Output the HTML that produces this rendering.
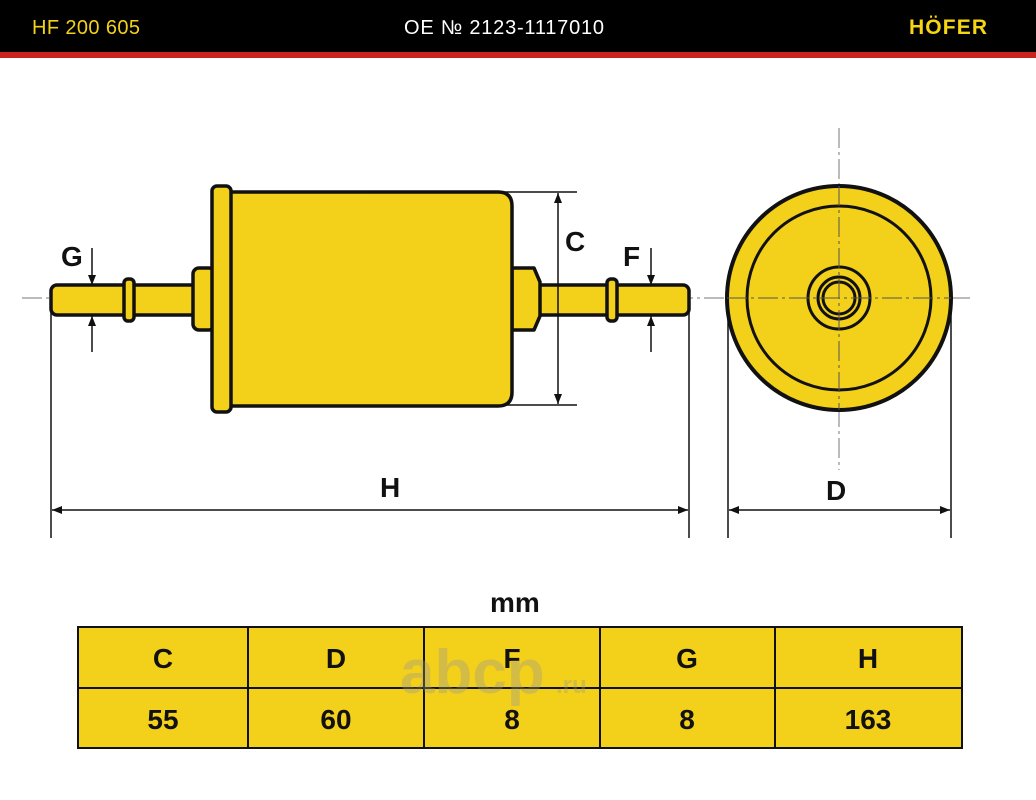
<!DOCTYPE html>
<html><head><meta charset="utf-8"><style>
html,body{margin:0;padding:0;background:#fff;}
svg{display:block;}
</style></head><body>
<svg width="1036" height="800" viewBox="0 0 1036 800" xmlns="http://www.w3.org/2000/svg" font-family="Liberation Sans, sans-serif">
<defs>
<marker id="ar" markerWidth="10" markerHeight="8" refX="10" refY="4" orient="auto-start-reverse" markerUnits="userSpaceOnUse"><path d="M0,0 L10,4 L0,8 Z" fill="#111"/></marker>
</defs>
<rect x="0" y="0" width="1036" height="52" fill="#000"/>
<rect x="0" y="52" width="1036" height="6" fill="#c8231d"/>
<text x="32" y="34" font-size="20" fill="#f2d21a" textLength="108">HF 200 605</text>
<text x="404" y="34" font-size="20" fill="#fff" textLength="200">OE № 2123-1117010</text>
<text x="909" y="34" font-size="21" font-weight="bold" fill="#f6d515" textLength="78">HÖFER</text>

<!-- center lines -->
<line x1="22" y1="298" x2="970" y2="298" stroke="#777" stroke-width="1" stroke-dasharray="20,4,3,4"/>
<line x1="839" y1="128" x2="839" y2="470" stroke="#777" stroke-width="1" stroke-dasharray="20,4,3,4"/>

<g fill="#f3d01a" stroke="#111" stroke-width="3.5" stroke-linejoin="round">
<rect x="51" y="285" width="146" height="30" rx="6"/>
<rect x="124" y="279" width="10" height="42" rx="4"/>
<rect x="193" y="268" width="22" height="62" rx="6"/>
<rect x="536" y="285" width="153" height="30" rx="6"/>
<rect x="607" y="279" width="10" height="42" rx="4"/>
<path d="M512,268 L534,268 L540,282 L540,316 L534,330 L512,330 Z"/>
<path d="M228,192 L498,192 Q512,192 512,206 L512,392 Q512,406 498,406 L228,406 Z"/>
<rect x="212" y="186" width="19" height="226" rx="5"/>
</g>

<g stroke="#111" fill="none" stroke-width="3">
<circle cx="839" cy="298" r="112" fill="#f3d01a" stroke-width="4"/>
<circle cx="839" cy="298" r="92"/>
<circle cx="839" cy="298" r="31"/>
<circle cx="839" cy="298" r="21"/>
<circle cx="839" cy="298" r="16"/>
</g>
<line x1="839" y1="186" x2="839" y2="410" stroke="#555" stroke-width="1" stroke-dasharray="20,4,3,4"/>
<line x1="727" y1="298" x2="951" y2="298" stroke="#555" stroke-width="1" stroke-dasharray="20,4,3,4"/>

<g stroke="#111" stroke-width="1.5" fill="none">
<line x1="365" y1="192" x2="577" y2="192"/>
<line x1="505" y1="405" x2="577" y2="405"/>
<line x1="558" y1="193" x2="558" y2="404" marker-start="url(#ar)" marker-end="url(#ar)"/>
<line x1="92" y1="248" x2="92" y2="285" marker-end="url(#ar)"/>
<line x1="92" y1="352" x2="92" y2="316" marker-end="url(#ar)"/>
<line x1="651" y1="248" x2="651" y2="285" marker-end="url(#ar)"/>
<line x1="651" y1="352" x2="651" y2="316" marker-end="url(#ar)"/>
<line x1="51" y1="305" x2="51" y2="538"/>
<line x1="689" y1="305" x2="689" y2="538"/>
<line x1="52" y1="510" x2="688" y2="510" marker-start="url(#ar)" marker-end="url(#ar)"/>
<line x1="728" y1="300" x2="728" y2="538"/>
<line x1="951" y1="300" x2="951" y2="538"/>
<line x1="729" y1="510" x2="950" y2="510" marker-start="url(#ar)" marker-end="url(#ar)"/>
</g>
<g font-weight="bold" font-size="28" fill="#111">
<text x="61" y="266">G</text>
<text x="623" y="266">F</text>
<text x="565" y="251">C</text>
<text x="380" y="497">H</text>
<text x="826" y="500">D</text>
<text x="490" y="612">mm</text>
</g>

<g stroke="#111" stroke-width="2">
<rect x="78" y="627" width="884" height="121" fill="#f3d01a"/>
<line x1="78" y1="688" x2="962" y2="688"/>
<line x1="248" y1="627" x2="248" y2="748"/>
<line x1="424" y1="627" x2="424" y2="748"/>
<line x1="600" y1="627" x2="600" y2="748"/>
<line x1="775" y1="627" x2="775" y2="748"/>
</g>
<g font-weight="bold" font-size="28" fill="#111" text-anchor="middle">
<text x="163" y="668">C</text><text x="336" y="668">D</text><text x="512" y="668">F</text><text x="687" y="668">G</text><text x="868" y="668">H</text>
<text x="163" y="729">55</text><text x="336" y="729">60</text><text x="512" y="729">8</text><text x="687" y="729">8</text><text x="868" y="729">163</text>
</g>
<text x="400" y="693" font-size="62" font-weight="bold" fill="#999" fill-opacity="0.35">abcp</text>
<text x="556" y="693" font-size="24" font-weight="bold" fill="#999" fill-opacity="0.35">.ru</text>
</svg>
</body></html>
